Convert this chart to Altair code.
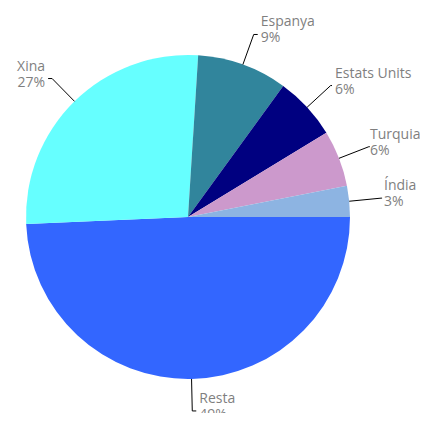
import altair as alt
import pandas as pd

# Data
paisos = ["Resta", "Xina", "Espanya", "Estats Units", "Turquia", "Índia"]
valors = [49.3, 26.7, 9.0, 6.3, 5.6, 3.1]
colors = ["#3366FF", "#66FFFF", "#31859C", "#000080", "#CC99CC", "#8DB4E2"]

df = pd.DataFrame({"pais": paisos, "v": valors, "ord": list(range(len(paisos)))})

R = 162      # pie radius (px)
R2 = 194     # leader line outer radius (px)
W, H = 412, 405
XMAX = W - 180

xs = alt.Scale(domain=[-180, XMAX], nice=False, zero=False)
ys = alt.Scale(domain=[-(H - 209), 209], nice=False, zero=False)

base = alt.Chart(df).transform_joinaggregate(
    total="sum(v)"
).transform_window(
    cum="sum(v)", sort=[alt.SortField("ord")], frame=[None, 0]
).transform_calculate(
    c0="(datum.cum - datum.v) / datum.total",
    c1="datum.cum / datum.total",
).transform_calculate(
    t0="PI/2 + 2*PI*datum.c0",
    t1="PI/2 + 2*PI*datum.c1",
    tm="PI/2 + PI*(datum.c0 + datum.c1)",
).transform_calculate(
    ex=f"{R}*sin(datum.tm)",
    ey=f"{R}*cos(datum.tm)",
    ox=f"{R2}*sin(datum.tm)",
    oy=f"{R2}*cos(datum.tm)",
    side="sin(datum.tm) >= 0 ? 1 : -1",
).transform_calculate(
    # keep right-side labels inside the drawing area
    tx=f"datum.side > 0 ? min(datum.ox + 7, {XMAX} - 1 - 7.0*length(datum.pais)) : datum.ox - 7",
).transform_calculate(
    hx="datum.side > 0 ? max(datum.ox + 1, min(datum.ox + 4, datum.tx - 3)) : datum.ox - 4",
    lab="datum.pais + '\\n' + round(100*datum.v/datum.total) + '%'",
)

pie = base.mark_arc(outerRadius=R, stroke=None).encode(
    theta=alt.Theta("t0:Q", scale=None),
    theta2="t1:Q",
    x=alt.X(datum=0, type="quantitative", scale=xs, axis=None),
    y=alt.Y(datum=0, type="quantitative", scale=ys, axis=None),
    color=alt.Color("pais:N", scale=alt.Scale(domain=paisos, range=colors), legend=None),
)

lead = base.mark_rule(color="black", strokeWidth=1).encode(
    x=alt.X("ex:Q", scale=xs, axis=None),
    y=alt.Y("ey:Q", scale=ys, axis=None),
    x2="ox:Q",
    y2="oy:Q",
)

tick = base.mark_rule(color="black", strokeWidth=1).encode(
    x=alt.X("ox:Q", scale=xs, axis=None),
    y=alt.Y("oy:Q", scale=ys, axis=None),
    x2="hx:Q",
)

txt_style = dict(font="Open Sans", fontSize=14, color="#7F7F7F", lineBreak="\n",
                 baseline="middle", dy=-12, lineHeight=16)

txt_r = base.transform_filter("datum.side > 0").mark_text(align="left", **txt_style).encode(
    x=alt.X("tx:Q", scale=xs, axis=None),
    y=alt.Y("oy:Q", scale=ys, axis=None),
    text="lab:N",
)
txt_l = base.transform_filter("datum.side < 0").mark_text(align="right", **txt_style).encode(
    x=alt.X("tx:Q", scale=xs, axis=None),
    y=alt.Y("oy:Q", scale=ys, axis=None),
    text="lab:N",
)

chart = alt.layer(pie, lead, tick, txt_r, txt_l).properties(
    width=W, height=H, padding=0, autosize=alt.AutoSizeParams(type="none")
).configure_view(stroke=None)

chart.save("out.html", embed_options={"renderer": "svg", "actions": False})
